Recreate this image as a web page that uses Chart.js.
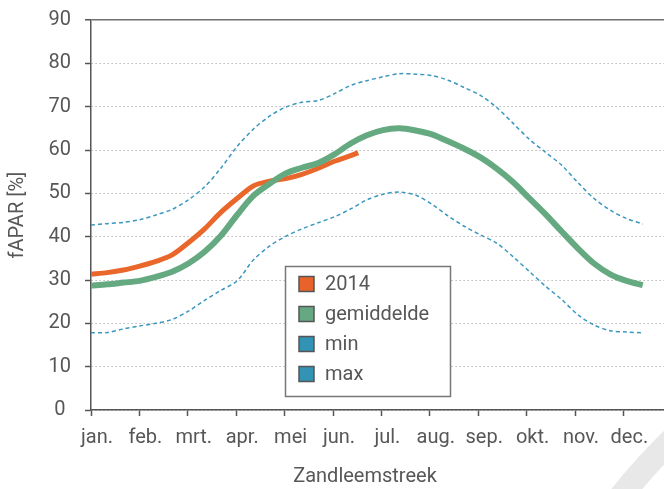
<!DOCTYPE html>
<html>
<head>
<meta charset="utf-8">
<script src="https://cdn.jsdelivr.net/npm/chart.js@4"></script>
<style>
  html, body { margin: 0; padding: 0; background: #fff; overflow: hidden; }
  #wrap { width: 664px; height: 489px; }
</style>
</head>
<body>
<div id="wrap"><canvas id="chart" width="664" height="489"></canvas></div>
<script>
// --- data (one value per dekad) ---
const maanden = ['jan.','feb.','mrt.','apr.','mei','jun.','jul.','aug.','sep.','okt.','nov.','dec.'];
const yTicks = [0,10,20,30,40,50,60,70,80,90];

const gemiddelde = [28.7,29.0,29.4,29.8,30.7,31.9,33.8,36.5,40.2,45.0,49.4,52.2,54.6,55.9,57.0,59.0,61.5,63.4,
                    64.6,65.0,64.5,63.6,62.0,60.3,58.3,55.7,52.6,48.9,45.2,41.2,37.3,33.8,31.3,29.8,28.8];
const minimum    = [17.8,17.9,18.7,19.4,20.0,20.9,22.8,25.3,27.6,29.8,34.6,37.8,40.1,41.8,43.2,44.6,46.4,48.5,
                    49.8,50.3,49.6,47.5,44.8,42.4,40.4,38.5,35.4,32.0,28.6,25.5,22.0,19.6,18.3,18.0,17.8];
const maximum    = [42.7,43.0,43.3,43.9,45.0,46.3,48.5,51.5,55.8,60.8,64.8,67.8,69.9,71.0,71.4,73.0,74.9,76.0,
                    76.9,77.6,77.5,77.2,76.1,74.4,72.6,69.8,66.2,62.5,59.5,56.5,52.5,48.8,46.1,44.2,42.9];
const waarden2014 = [31.3,31.7,32.3,33.2,34.3,35.8,38.6,41.8,45.6,48.8,51.7,52.8,53.4,54.4,55.8,57.4,58.7,59.4];

// x in months (0 = jan.)
const stap = 11.4 / 34;
const einde2014 = 5.52;
const toPts = (arr) => arr.map((v, i) => ({ x: i * stap, y: v }));
const pts2014 = waarden2014.map((v, i) => ({ x: i < 17 ? i * stap : einde2014, y: v }));

const grijs = '#575757';
const font = { family: 'Roboto', size: 20 };

// legend box + x title + watermark
const extras = {
  id: 'extras',
  beforeDraw(chart) {
    const ctx = chart.ctx;
    ctx.save();
    ctx.strokeStyle = '#e8e8e8';
    ctx.lineWidth = 24;
    ctx.beginPath();
    ctx.moveTo(618, 500);
    ctx.quadraticCurveTo(645, 465, 680, 432);
    ctx.stroke();
    ctx.restore();
  },
  afterDraw(chart) {
    const ctx = chart.ctx;
    ctx.save();
    ctx.fillStyle = grijs;
    ctx.font = '20px Roboto';
    ctx.textAlign = 'center';
    ctx.textBaseline = 'middle';
    ctx.fillText('Zandleemstreek', 365, 477);

    // legend
    const bx = 285.5, by = 266.5, bw = 165, bh = 130;
    ctx.fillStyle = '#fff';
    ctx.fillRect(bx, by, bw, bh);
    ctx.strokeStyle = '#777';
    ctx.lineWidth = 1.5;
    ctx.strokeRect(bx, by, bw, bh);
    ctx.font = '20px Roboto';
    ctx.textAlign = 'left';
    chart.data.datasets.forEach((ds, k) => {
      const cy = 284 + k * 30;
      ctx.fillStyle = ds.legendColor;
      ctx.fillRect(299, cy - 7.5, 15, 15);
      ctx.strokeStyle = '#555';
      ctx.lineWidth = 1.5;
      ctx.strokeRect(299, cy - 7.5, 15, 15);
      ctx.fillStyle = grijs;
      ctx.fillText(ds.label, 325, cy + 1);
    });
    ctx.restore();
  }
};

new Chart(document.getElementById('chart'), {
  type: 'line',
  data: {
    datasets: [
      { label: '2014', data: pts2014, borderColor: '#E9672A', legendColor: '#E8632A', borderWidth: 5, order: 1 },
      { label: 'gemiddelde', data: toPts(gemiddelde), borderColor: '#65A981', legendColor: '#66A882', borderWidth: 6, order: 0 },
      { label: 'min', data: toPts(minimum), borderColor: '#3A97BE', legendColor: '#3393B5', borderWidth: 1.5, borderDash: [4, 3], order: 2 },
      { label: 'max', data: toPts(maximum), borderColor: '#3A97BE', legendColor: '#3393B5', borderWidth: 1.5, borderDash: [4, 3], order: 2 }
    ]
  },
  options: {
    responsive: false,
    animation: false,
    devicePixelRatio: 1,
    layout: { padding: { top: 20, left: 0, right: 0, bottom: 0 } },
    elements: {
      point: { radius: 0 },
      line: { tension: 0.3, fill: false, borderJoinStyle: 'round' }
    },
    plugins: { legend: { display: false }, tooltip: { enabled: false } },
    scales: {
      x: {
        type: 'linear',
        min: 0,
        max: (664 - 91) / 48.4,
        afterBuildTicks: s => { s.ticks = maanden.map((_, i) => ({ value: i })); },
        afterFit: s => { s.height = 79; },
        grid: { drawOnChartArea: false, tickColor: '#555', tickLength: 6, tickWidth: 1.5 },
        border: { color: '#555', width: 1.5 },
        ticks: { callback: v => maanden[v], labelOffset: 6, padding: 10, maxRotation: 0, autoSkip: false, color: grijs, font }
      },
      y: {
        min: 0,
        max: 90,
        afterBuildTicks: s => { s.ticks = yTicks.map(v => ({ value: v })); },
        afterFit: s => { s.width = 91; s.paddingTop = 0; s.paddingBottom = 0; },
        grid: {
          color: c => (c.tick && c.tick.value === 90) ? '#707070' : '#a8a8a8',
          lineWidth: c => (c.tick && c.tick.value === 90) ? 1.5 : 1,
          tickColor: '#555', tickLength: 6, tickWidth: 1.5
        },
        border: { color: '#555', width: 1.5, dash: c => (c.tick && c.tick.value === 90) ? [] : [1.2, 2.8] },
        ticks: { padding: 14, crossAlign: 'center', color: grijs, font },
        title: { display: true, text: 'fAPAR [%]', color: grijs, font, padding: { top: 6, bottom: 0 } }
      }
    }
  },
  plugins: [extras]
});
</script>
</body>
</html>
